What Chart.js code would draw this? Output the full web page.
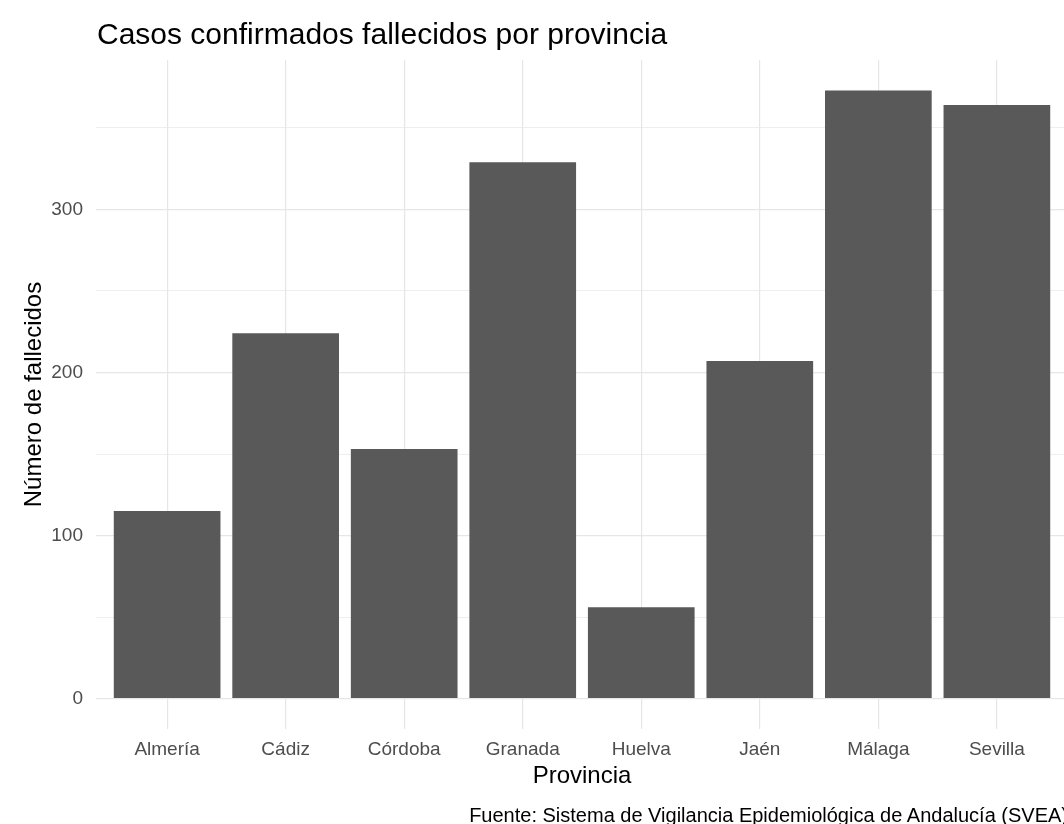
<!DOCTYPE html>
<html>
<head>
<meta charset="utf-8">
<script src="https://cdn.jsdelivr.net/npm/chart.js@4.4.1/dist/chart.umd.min.js"></script>
<style>
  html, body { margin: 0; padding: 0; background: #fff; overflow: hidden; }
  #wrap { position: relative; width: 1072px; height: 824px; font-family: "Liberation Sans", Arial, sans-serif; }
  #titulo { position: absolute; left: 97px; top: 19px; font-size: 30px; line-height: 30px; color: #000; white-space: nowrap; }
  #fuente { position: absolute; right: 4px; top: 805px; font-size: 20px; line-height: 20px; color: #000; white-space: nowrap; }
</style>
</head>
<body>
<div id="wrap">
  <canvas id="grafico" width="1072" height="824"></canvas>
  <div id="titulo">Casos confirmados fallecidos por provincia</div>
  <div id="fuente">Fuente: Sistema de Vigilancia Epidemiológica de Andalucía (SVEA)</div>
</div>
<script>
var provincias = ["Almería", "Cádiz", "Córdoba", "Granada", "Huelva", "Jaén", "Málaga", "Sevilla"];
var fallecidos = [115, 224, 153, 329, 56, 207, 373, 364];
var yTicks = [0, 100, 200, 300];

// ggplot style expansion of the axes
var maxV = Math.max.apply(null, fallecidos);
var yMin = -0.05 * maxV;
var yMax = 1.05 * maxV;

var puntos = fallecidos.map(function(v, i) { return { x: i, y: v }; });

var ctx = document.getElementById("grafico");
var myChart = new Chart(ctx, {
  type: 'bar',
  data: {
    datasets: [{
      data: puntos,
      backgroundColor: '#595959',
      borderWidth: 0,
      barPercentage: 0.9,
      categoryPercentage: 1.0
    }]
  },
  options: {
    responsive: false,
    animation: false,
    layout: { padding: { top: 60, left: 0, right: 4, bottom: 0 } },
    plugins: {
      legend: { display: false },
      tooltip: { enabled: false }
    },
    scales: {
      x: {
        type: 'linear',
        min: -0.6,
        max: provincias.length - 0.4,
        offset: false,
        afterFit: function(scale) { scale.height = 95; },
        border: { display: false },
        grid: { color: '#e6e6e6', lineWidth: 1.2, drawTicks: false, offset: false },
        ticks: {
          stepSize: 1,
          includeBounds: false,
          autoSkip: false,
          maxRotation: 0,
          padding: 9,
          color: '#4d4d4d',
          font: { family: 'Liberation Sans', size: 19 },
          callback: function(v) { return provincias[v] || ''; }
        },
        title: {
          display: true,
          text: 'Provincia',
          color: '#000',
          font: { family: 'Liberation Sans', size: 24 },
          padding: { top: 0, bottom: 33 }
        }
      },
      y: {
        min: yMin,
        max: yMax,
        afterFit: function(scale) { scale.width = 96; },
        border: { display: false },
        grid: {
          color: '#e6e6e6',
          drawTicks: false,
          lineWidth: function(c) { return yTicks.indexOf(c.tick.value) >= 0 ? 1.2 : 0.7; }
        },
        ticks: {
          stepSize: 50,
          includeBounds: false,
          padding: 13,
          color: '#4d4d4d',
          font: { family: 'Liberation Sans', size: 19 },
          callback: function(v) { return yTicks.indexOf(v) >= 0 ? v : ''; }
        },
        title: {
          display: true,
          text: 'Número de fallecidos',
          color: '#000',
          font: { family: 'Liberation Sans', size: 24 },
          padding: { top: 20, bottom: 0 }
        }
      }
    }
  }
});
</script>
</body>
</html>
